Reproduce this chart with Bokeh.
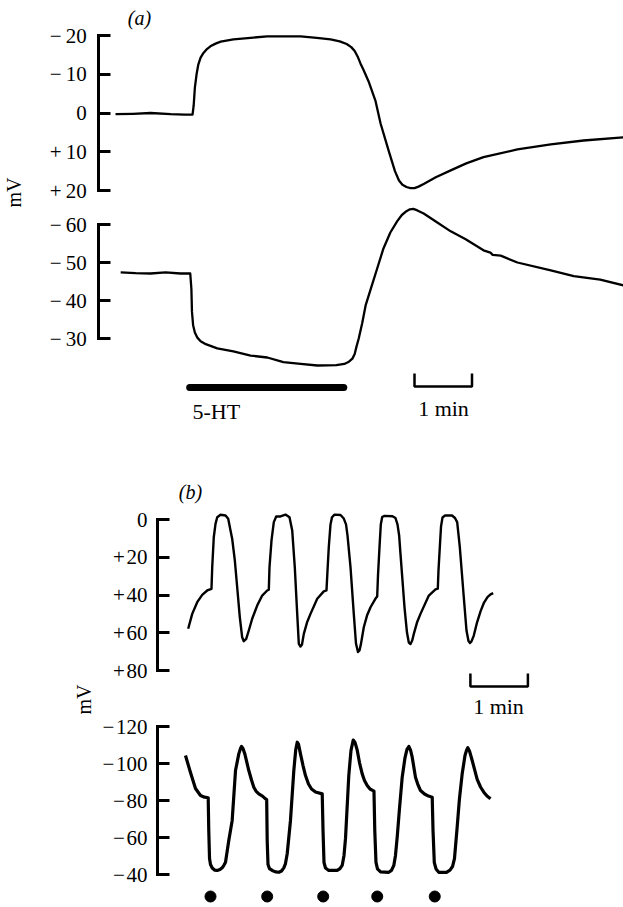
import math
from bokeh.plotting import figure
from bokeh.models import Range1d, LinearAxis, FixedTicker, Label
from bokeh.embed import file_html
from bokeh.resources import INLINE

# ---------------- data (time in min, potential in mV) ----------------
# panel (a): upper trace
a_top_t = [0.0, 0.30, 0.61, 0.96, 1.20, 1.34, 1.36, 1.38, 1.41, 1.44, 1.48, 1.53, 1.59, 1.65,
           1.74, 1.83, 2.05, 2.35, 2.64, 3.22, 3.50, 3.74, 3.90, 4.02, 4.10, 4.16, 4.21,
           4.26, 4.31, 4.40, 4.52, 4.61, 4.75, 4.86, 4.93, 4.99, 5.06, 5.13, 5.20, 5.27,
           5.36, 5.57, 5.83, 6.10, 6.40, 6.99, 7.57, 8.14, 8.83]
a_top_mv = [0.3, 0.2, 0.0, 0.3, 0.4, 0.4, -2.0, -6.5, -10.0, -12.5, -14.3, -15.5, -16.5, -17.2,
            -17.9, -18.4, -19.0, -19.4, -19.8, -19.8, -19.4, -19.0, -18.5, -17.8, -17.0, -16.0,
            -14.6, -12.8, -11.2, -8.2, -3.2, 2.7, 9.7, 15.0, 17.4, 18.5, 19.1, 19.4, 19.4, 19.0,
            18.3, 16.6, 14.8, 13.0, 11.4, 9.4, 8.1, 7.1, 6.3]
# panel (a): lower trace
a_bot_t = [0.09, 0.35, 0.61, 0.87, 1.13, 1.30, 1.32, 1.33, 1.35, 1.38, 1.42, 1.48, 1.57, 1.77,
           2.05, 2.35, 2.64, 2.92, 3.22, 3.51, 3.84, 3.98, 4.06, 4.12, 4.16, 4.19, 4.23,
           4.29, 4.35, 4.43, 4.54, 4.66, 4.78, 4.90, 4.98, 5.06, 5.12, 5.18, 5.25, 5.36,
           5.57, 5.83, 6.09, 6.40, 6.52, 6.56, 6.70, 6.99, 7.57, 7.97, 8.43, 8.83]
a_bot_mv = [-47.4, -47.2, -47.1, -47.4, -47.1, -47.1, -43.0, -37.0, -33.5, -31.6, -30.3, -29.3,
            -28.5, -27.4, -26.6, -25.5, -25.0, -23.8, -23.3, -22.9, -23.0, -23.3, -23.9, -24.7,
            -25.9, -27.8, -30.0, -34.0, -38.7, -42.6, -47.9, -53.7, -57.9, -60.9, -62.5, -63.5,
            -64.0, -64.1, -63.7, -62.9, -60.8, -58.2, -56.1, -53.2, -52.6, -52.0, -51.8, -50.0,
            -47.9, -46.4, -45.5, -44.0]
ht_start, ht_end = 1.29, 3.97          # 5-HT application (min)
a_ticks_top = [-20, -10, 0, 10, 20]
a_labels_top = ["\u2212\u200920", "\u2212\u200910", "0", "+\u200910", "+\u200920"]
a_ticks_bot = [-60, -50, -40, -30]
a_labels_bot = ["\u2212\u200960", "\u2212\u200950", "\u2212\u200940", "\u2212\u200930"]

# panel (b): upper trace
b_top_t = [0.012, 0.082, 0.169, 0.256, 0.343, 0.417,
           0.430, 0.457, 0.487, 0.517, 0.574, 0.661, 0.708, 0.748, 0.777, 0.823, 0.864, 0.910,
           0.951, 0.979, 1.021, 1.066, 1.125, 1.212, 1.299, 1.386, 1.414,
           1.426, 1.461, 1.501, 1.543, 1.617, 1.704, 1.774, 1.821, 1.866, 1.908, 1.936, 1.965,
           1.991, 2.023, 2.078, 2.139, 2.256, 2.370, 2.417,
           2.435, 2.457, 2.487, 2.513, 2.557, 2.661, 2.718, 2.757, 2.783, 2.835, 2.892, 2.930,
           2.965, 2.991, 3.017, 3.066, 3.122, 3.183, 3.270, 3.299,
           3.313, 3.339, 3.362, 3.386, 3.426, 3.565, 3.617, 3.652, 3.681, 3.704, 3.774, 3.817,
           3.849, 3.878, 3.908, 3.936, 3.991, 4.052, 4.197, 4.313, 4.353,
           4.365, 4.388, 4.409, 4.435, 4.478, 4.600, 4.652, 4.690, 4.736, 4.805, 4.852, 4.887,
           4.913, 4.939, 4.979, 5.035, 5.096, 5.157, 5.217, 5.270, 5.317]
b_top_mv = [57.9, 50.0, 43.8, 39.9, 37.6, 36.7,
            25.3, 9.4, 2.3, -1.2, -2.5, -2.1, -0.4, 5.8, 10.2, 21.7, 35.9, 51.8,
            62.4, 64.5, 63.2, 58.8, 52.6, 45.6, 40.3, 37.6, 37.2,
            25.3, 11.1, 1.4, -1.6, -1.6, -2.6, -1.2, 5.8, 25.3, 50.0, 65.9, 67.3,
            66.2, 60.6, 54.6, 50.0, 42.0, 38.1, 37.6,
            27.0, 14.7, 2.6, -1.2, -2.6, -2.4, -0.5, 2.6, 8.5, 25.3, 50.0, 65.7,
            70.2, 69.4, 65.9, 57.1, 50.9, 46.5, 41.9, 40.8,
            29.7, 14.7, 2.6, -1.3, -1.9, -1.7, -0.8, 2.6, 8.5, 18.2, 46.5, 59.9,
            65.2, 66.0, 64.1, 60.6, 54.6, 50.0, 40.3, 37.0, 36.6,
            27.0, 14.7, 3.7, -1.1, -2.1, -2.1, -0.8, 1.4, 14.7, 41.2, 58.8, 64.4,
            65.4, 64.6, 61.5, 54.6, 48.7, 44.0, 41.1, 39.7, 39.0]
# panel (b): lower trace
b_bot_t = [-0.035, 0.052, 0.139, 0.226, 0.296, 0.360,
           0.370, 0.383, 0.400, 0.430, 0.470, 0.517, 0.565, 0.603, 0.635, 0.661, 0.718, 0.777,
           0.835, 0.892, 0.922, 0.939, 0.965, 0.997, 1.066, 1.113, 1.153, 1.191, 1.240, 1.304,
           1.357, 1.377,
           1.386, 1.400, 1.426, 1.473, 1.530, 1.588, 1.635, 1.675, 1.704, 1.734, 1.791, 1.849,
           1.883, 1.908, 1.930, 1.965, 2.009, 2.052, 2.104, 2.157, 2.226, 2.343,
           2.357, 2.374, 2.400, 2.457, 2.603, 2.652, 2.690, 2.722, 2.748, 2.805, 2.843, 2.882,
           2.913, 2.951, 2.991, 3.038, 3.078, 3.125, 3.174, 3.243,
           3.257, 3.278, 3.304, 3.357, 3.501, 3.548, 3.588, 3.617, 3.647, 3.687, 3.734, 3.783,
           3.817, 3.849, 3.878, 3.908, 3.965, 4.009, 4.052, 4.122, 4.191, 4.256,
           4.270, 4.292, 4.322, 4.370, 4.504, 4.565, 4.609, 4.643, 4.690, 4.730, 4.777, 4.826,
           4.852, 4.875, 4.904, 4.951, 5.000, 5.038, 5.096, 5.153, 5.209, 5.270]
b_bot_mv = [-104.3, -95.1, -86.5, -82.7, -81.8, -81.5,
            -63.8, -48.6, -45.4, -43.5, -42.4, -42.2, -42.7, -43.6, -45.1, -46.6, -58.4, -69.2,
            -96.2, -105.2, -108.1, -109.2, -108.1, -105.2, -96.2, -91.1, -87.2, -85.1, -83.6, -82.4,
            -80.9, -80.5,
            -58.4, -45.4, -43.2, -42.2, -41.4, -41.2, -41.9, -43.6, -45.9, -51.2, -69.2, -96.2,
            -107.6, -111.5, -110.5, -105.2, -98.9, -93.5, -88.9, -86.2, -84.6, -83.6,
            -63.8, -46.5, -43.5, -42.2, -42.2, -43.2, -44.9, -50.3, -59.5, -93.5, -107.0, -112.7,
            -111.4, -107.3, -100.5, -94.4, -90.8, -88.1, -86.2, -85.1,
            -63.8, -46.5, -43.0, -41.4, -41.2, -42.2, -44.9, -50.3, -60.2, -75.7, -92.6, -103.2,
            -107.6, -109.2, -107.3, -103.4, -92.6, -88.4, -85.4, -83.5, -82.4, -81.8,
            -63.8, -46.5, -43.0, -41.2, -41.2, -42.4, -44.3, -48.6, -65.6, -81.1, -94.4, -104.3,
            -107.0, -108.5, -106.8, -101.6, -95.9, -91.4, -87.3, -84.5, -82.4, -80.9]
stim_t = [0.40, 1.386, 2.36, 3.30, 4.30]   # stimulus markers (min)
b_ticks_top = [0, 20, 40, 60, 80]
b_labels_top = ["0", "+\u200a20", "+\u200a40", "+\u200a60", "+\u200a80"]
b_ticks_bot = [-120, -100, -80, -60, -40]
b_labels_bot = ["\u2212\u200a120", "\u2212\u200a100", "\u2212\u200a80", "\u2212\u200a60", "\u2212\u200a40"]

# ---------------- layout helpers (page pixels) ----------------
W, H = 623, 907
OX, OY = 0, 0


def xr(v1, p1, v2, p2):
    k = (v2 - v1) / (p2 - p1)
    return Range1d(start=v1 + (OX - p1) * k, end=v1 + (OX + W - p1) * k)


def yr(v1, p1, v2, p2):
    k = (v2 - v1) / (p2 - p1)
    return Range1d(start=v1 + (OY + H - p1) * k, end=v1 + (OY - p1) * k)


p = figure(width=W, height=H, output_backend="svg", toolbar_location=None,
           x_axis_type=None, y_axis_type=None, min_border=0,
           x_range=xr(0, 115, 1, 172.5), y_range=yr(-20, 35, 20, 190))
p.extra_x_ranges = {"b": xr(0, 187, 1, 244.5)}
p.extra_y_ranges = {
    "a_bot": yr(-60, 224, -30, 338),
    "b_top": yr(0, 519, 80, 670),
    "b_bot": yr(-120, 726, -40, 874),
    "page": Range1d(start=OY + H, end=OY),
}
p.outline_line_color = None
p.background_fill_color = "white"
p.border_fill_color = "white"

SERIF = "Liberation Serif"


def add_axis(yname, xname, loc, ticks, labels, standoff):
    ax = LinearAxis(y_range_name=yname, x_range_name=xname, fixed_location=loc,
                    bounds=(min(ticks), max(ticks)), ticker=FixedTicker(ticks=ticks),
                    major_label_overrides={t: l for t, l in zip(ticks, labels)},
                    axis_line_width=3, axis_line_color="black", axis_line_cap="square",
                    major_tick_line_width=3, major_tick_line_color="black",
                    major_tick_in=12, major_tick_out=0,
                    minor_tick_line_color=None,
                    major_label_standoff=standoff,
                    major_label_text_font=SERIF, major_label_text_font_size="21px",
                    major_label_text_color="black")
    p.add_layout(ax, "left")


add_axis("default", "default", -0.29, a_ticks_top, a_labels_top, 12)
add_axis("a_bot", "default", -0.29, a_ticks_bot, a_labels_bot, 12)
add_axis("b_top", "b", -0.52, b_ticks_top, b_labels_top, 10)
add_axis("b_bot", "b", -0.52, b_ticks_bot, b_labels_bot, 10)

# traces
p.line(a_top_t, a_top_mv, line_color="black", line_width=2.3, line_join="round")
p.line(a_bot_t, a_bot_mv, y_range_name="a_bot", line_color="black", line_width=2.3,
       line_join="round")
p.line(b_top_t, b_top_mv, x_range_name="b", y_range_name="b_top", line_color="black",
       line_width=2.4, line_join="round")
p.line(b_bot_t, b_bot_mv, x_range_name="b", y_range_name="b_bot", line_color="black",
       line_width=3.2, line_join="round")

# 5-HT bar
p.line([ht_start, ht_end], [387, 387], y_range_name="page", line_color="black",
       line_width=7, line_cap="round")
# time scale bars (1 min)
sa = 5.2
p.line([sa, sa, sa + 1, sa + 1], [373, 386, 386, 373], y_range_name="page",
       line_color="black", line_width=2.5)
sb = 4.92
p.line([sb, sb, sb + 1, sb + 1], [673, 686, 686, 673], x_range_name="b", y_range_name="page",
       line_color="black", line_width=2.5)
# stimulus markers
p.scatter(stim_t, [896] * len(stim_t), x_range_name="b", y_range_name="page",
          size=11, color="black")


def lab(text, px, py, size="22px", align="center", style="normal", angle=0.0):
    p.add_layout(Label(x=px - OX, y=OY + H - py, x_units="screen", y_units="screen",
                       text=text, text_font=SERIF, text_font_size=size,
                       text_font_style=style, text_align=align, text_baseline="middle",
                       angle=angle, text_color="black"))


lab("(a)", 139, 17, "20px", style="italic")
lab("(b)", 190, 491, "20px", style="italic")
lab("mV", 13, 192, "20px", angle=math.pi / 2)
lab("mV", 83, 699, "20px", angle=math.pi / 2)
lab("5-HT", 192, 411, "22px", align="left")
lab("1 min", 443, 408, "22px")
lab("1 min", 498, 706, "22px")

open("out.html", "w").write(file_html(p, INLINE))
